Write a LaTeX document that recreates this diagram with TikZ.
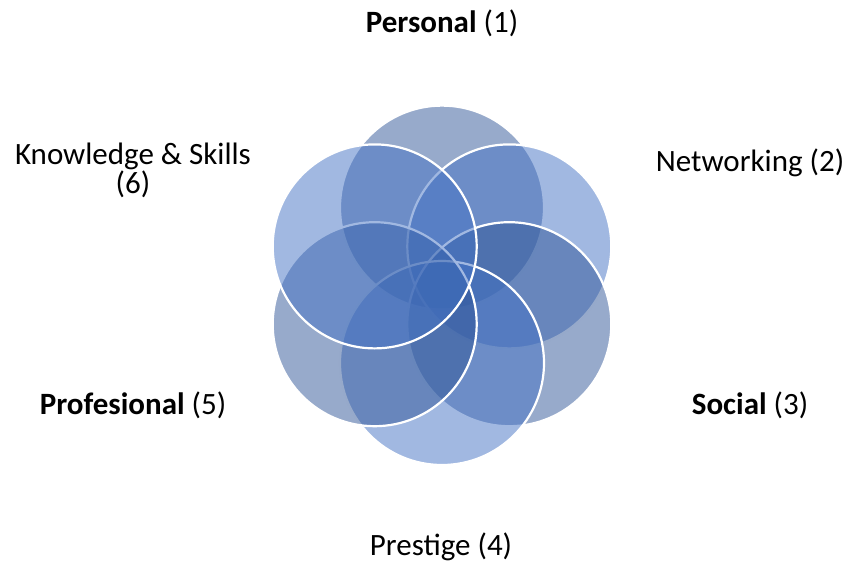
\documentclass[tikz,border=0pt]{standalone}
\usepackage{fontspec}
\setmainfont{Carlito}
\definecolor{oddblue}{HTML}{2F5597}
\definecolor{evenblue}{HTML}{4472C4}
\begin{document}
\begin{tikzpicture}[x=1pt,y=-1pt,
  petal/.style={circle,minimum size=204pt,inner sep=0pt,draw=white,line width=2.2pt,fill opacity=0.5,draw opacity=1},
  lbl/.style={inner sep=0pt,anchor=base,font=\fontsize{31}{25}\selectfont,text=black,align=center}]
\useasboundingbox (0,0) rectangle (850,569);
\node[petal,fill=oddblue]  (c1) at (442,207.6) {};
\node[petal,fill=evenblue] (c2) at (509.3,246.4) {};
\node[petal,fill=oddblue]  (c3) at (509.3,324.2) {};
\node[petal,fill=evenblue] (c4) at (442,363) {};
\node[petal,fill=oddblue]  (c5) at (374.7,324.2) {};
\node[petal,fill=evenblue] (c6) at (374.7,246.4) {};
\node[lbl] (t1) at (442,33) {\textbf{Personal} (1)};
\node[lbl] (t2) at (750,172) {Networking (2)};
\node[lbl] (t3) at (750,414) {\textbf{Social} (3)};
\node[lbl] (t4) at (441,555) {Prestige (4)};
\node[lbl] (t5) at (133,414) {\textbf{Profesional} (5)};
\node[lbl] (t6) at (133,194) {Knowledge \& Skills\\(6)};
\end{tikzpicture}
\end{document}
